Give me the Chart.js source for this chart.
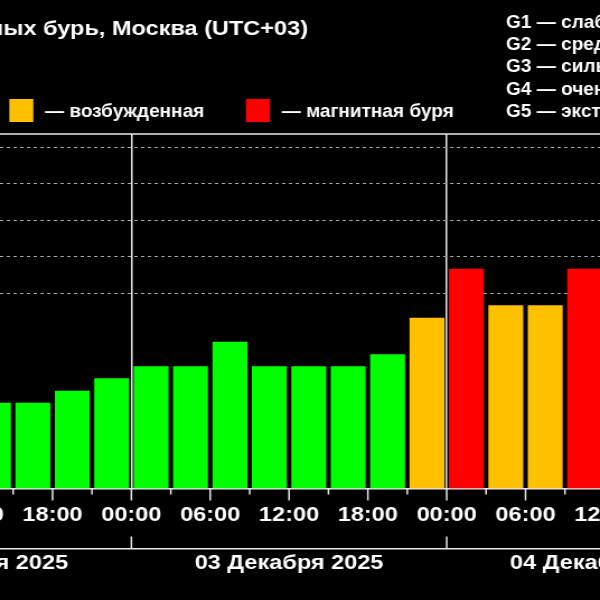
<!DOCTYPE html>
<html>
<head>
<meta charset="utf-8">
<script src="https://cdn.jsdelivr.net/npm/chart.js@4.4.1/dist/chart.umd.min.js"></script>
<style>
html, body { margin:0; padding:0; background:#000; overflow:hidden; width:600px; height:600px; }
#wrap { width:536px; height:600px; transform:scaleX(1.1194); transform-origin:0 0; }
</style>
</head>
<body>
<div id="wrap"><canvas id="chart" width="536" height="600"></canvas></div>
<script>
// 3-hour Kp slots, hours counted from 02 Dec 00:00 (Moscow time)
const slotStart = [12, 15, 18, 21, 24, 27, 30, 33, 36, 39, 42, 45, 48, 51, 54, 57];
const kpValues  = [2.0, 2.0, 2.33, 2.67, 3.0, 3.0, 3.67, 3.0, 3.0, 3.0, 3.33, 4.33, 5.67, 4.67, 4.67, 5.67];

const hourTicks = [12, 15, 18, 21, 24, 27, 30, 33, 36, 39, 42, 45, 48, 51, 54, 57, 60];
const dayTicks  = [12, 36, 60];
const dayLabels = ['02 Декабря 2025', '03 Декабря 2025', '04 Декабря 2025'];
const kpGrid    = [5, 6, 7, 8, 9];

const levelNames  = ['— спокойная', '— возбужденная', '— магнитная буря'];
const levelColors = ['#00ff00', '#ffc000', '#ff0000'];
const stormNames  = ['G1 — слабая', 'G2 — средняя', 'G3 — сильная', 'G4 — очень сильная', 'G5 — экстремальная'];
const titleText   = 'Прогноз магнитных бурь, Москва (UTC+03)';

const S = 600 / 536;          // picture is stretched horizontally
const px = v => v / S;        // picture x -> canvas x
const yMin = -0.35, yMax = 9.36;
const FONT = '"Liberation Sans", Arial, sans-serif';

function level(kp) {
    if (kp >= 5) return 2;
    if (kp >= 4) return 1;
    return 0;
}

// text squeezed horizontally by sx
function squeezedText(ctx, str, x, y, sx) {
    ctx.save();
    ctx.translate(x, y);
    ctx.scale(sx, 1);
    ctx.fillText(str, 0, 0);
    ctx.restore();
}

const decor = {
    id: 'decor',
    beforeDraw(chart) {
        const ctx = chart.ctx;
        ctx.save();
        ctx.fillStyle = '#000';
        ctx.fillRect(0, 0, chart.width, chart.height);
        ctx.restore();
    },
    afterDraw(chart) {
        const ctx = chart.ctx;
        const area = chart.chartArea;
        const x = chart.scales.x;
        ctx.save();
        ctx.strokeStyle = '#e8e8e8';
        ctx.lineWidth = 1.5;
        // top frame line
        ctx.beginPath();
        ctx.moveTo(0, area.top); ctx.lineTo(chart.width, area.top);
        ctx.stroke();
        // hour tick marks
        hourTicks.forEach(h => {
            const p = x.getPixelForValue(h);
            const len = h % 6 === 0 ? 12 : 6;
            ctx.beginPath();
            ctx.moveTo(p, area.bottom); ctx.lineTo(p, area.bottom + len);
            ctx.stroke();
        });
        // day boundary marks on the date axis
        const x2 = chart.scales.x2;
        [24, 48].forEach(h => {
            const p = x.getPixelForValue(h);
            ctx.beginPath();
            ctx.moveTo(p, x2.top - 12); ctx.lineTo(p, x2.top);
            ctx.stroke();
        });

        ctx.fillStyle = '#fff';
        // title
        ctx.font = 'bold 21px ' + FONT;
        ctx.textAlign = 'right';
        ctx.textBaseline = 'alphabetic';
        ctx.fillText(titleText, px(308), 35);

        // colour legend
        ctx.font = 'bold 19px ' + FONT;
        ctx.textAlign = 'left';
        levelNames.forEach((name, i) => {
            const bx = px(9.3 + (i - 1) * 236.7);
            ctx.fillStyle = levelColors[i];
            ctx.fillRect(bx, 99, px(24), 23);
            ctx.fillStyle = '#fff';
            squeezedText(ctx, name, bx + px(35.7), 117, 0.895);
        });

        // storm scale
        ctx.font = 'bold 18.5px ' + FONT;
        stormNames.forEach((name, i) => {
            squeezedText(ctx, name, px(506), 27.8 + i * 22.3, 0.92);
        });
        ctx.restore();
    }
};

const pad2 = n => String(n).padStart(2, '0');

new Chart(document.getElementById('chart'), {
    type: 'bar',
    data: {
        datasets: [{
            data: slotStart.map((h, i) => ({ x: h + 1.5, y: kpValues[i] })),
            backgroundColor: c => levelColors[level(c.raw.y)],
            base: yMin,
            borderWidth: 0,
            barPercentage: 0.885,
            categoryPercentage: 1
        }]
    },
    options: {
        responsive: false,
        animation: false,
        devicePixelRatio: 1,
        layout: { padding: { top: 134, left: 0, right: 0, bottom: 0 }, autoPadding: false },
        plugins: { legend: { display: false }, tooltip: { enabled: false } },
        scales: {
            x: {
                type: 'linear', position: 'bottom', min: 14, max: 59.67, bounds: 'data', offset: false,
                afterBuildTicks: s => { s.ticks = hourTicks.map(v => ({ value: v })); },
                afterFit: s => { s.height = 60; s.paddingLeft = 0; s.paddingRight = 0; },
                ticks: {
                    autoSkip: false, maxRotation: 0, padding: 14, color: '#fff',
                    font: { family: FONT, size: 21, weight: 'bold' },
                    callback: v => v % 6 === 0 ? pad2(v % 24) + ':00' : ''
                },
                grid: {
                    offset: false, drawTicks: false, lineWidth: 1.5,
                    color: c => (c.tick && c.tick.value % 24 === 0) ? '#e8e8e8' : 'rgba(0,0,0,0)'
                },
                border: { display: true, color: '#e8e8e8', width: 1.5 }
            },
            x2: {
                type: 'linear', position: 'bottom', min: 14, max: 59.67, bounds: 'data', offset: false,
                afterBuildTicks: s => { s.ticks = dayTicks.map(v => ({ value: v })); },
                afterFit: s => { s.height = 51.5; s.paddingLeft = 0; s.paddingRight = 0; },
                ticks: {
                    autoSkip: false, maxRotation: 0, padding: 2, color: '#fff',
                    font: { family: FONT, size: 21, weight: 'bold' },
                    callback: v => dayLabels[dayTicks.indexOf(v)]
                },
                grid: { display: false, offset: false, drawTicks: false },
                border: { display: true, color: '#e8e8e8', width: 1.5 }
            },
            y: {
                min: yMin, max: yMax,
                afterBuildTicks: s => { s.ticks = kpGrid.map(v => ({ value: v })); },
                afterFit: s => { s.width = 0; },
                ticks: { display: false },
                grid: { drawTicks: false, color: '#a8a8a8', lineWidth: 1 },
                border: { display: false, dash: [3, 3] }
            }
        }
    },
    plugins: [decor]
});
</script>
</body>
</html>
